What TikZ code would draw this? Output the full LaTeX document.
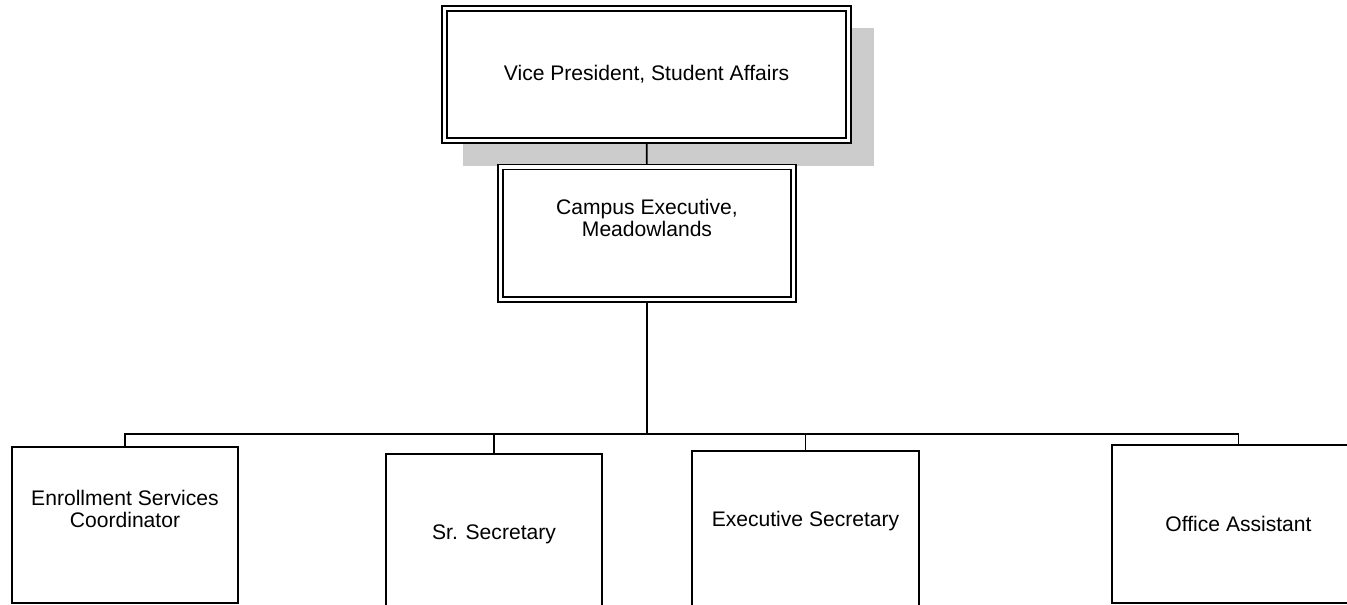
\documentclass[tikz,border=0pt]{standalone}
\usepackage{fontspec}
\setmainfont{Liberation Sans}
\usetikzlibrary{backgrounds}

\begin{document}
\begin{tikzpicture}[
  box/.style={draw,fill=white,line width=0.9pt,inner sep=0pt},
  dbox/.style={draw,fill=white,line width=0.6pt,double,double distance=2.25pt,
               inner sep=0pt,outer sep=1.75pt},
  conn/.style={line width=0.9pt},
  font=\fontsize{12}{12.5}\selectfont,
  every label/.style={align=center,font=\fontsize{12}{12.5}\selectfont},
]
  \useasboundingbox (0,0) rectangle (26.94,12.1);
  \clip (0,0) rectangle (26.94,12.1);

  % Top: vice president
  \node[dbox,minimum width=8.08cm,minimum height=2.64cm]
        (vp) at (12.93,10.61) {Vice President, Student Affairs};

  % grey shadow behind it
  \begin{scope}[on background layer]
    \fill[black!20] (9.26,8.78) rectangle (17.48,11.54);
  \end{scope}

  % Middle: campus executive
  \node[dbox,minimum width=5.86cm,minimum height=2.65cm,
        label={[yshift=0.3cm]center:Campus Executive,\\Meadowlands}]
        (ce) at (12.94,7.435) {};

  % Bottom row: staff
  \node[box,minimum width=4.52cm,minimum height=3.12cm,
        label={[yshift=0.33cm]center:Enrollment Services\\Coordinator}]
        (enr) at (2.50,1.60) {};
  \node[box,minimum width=4.32cm,minimum height=3.2cm] (sr) at (9.88,1.42) {Sr. Secretary};
  \node[box,minimum width=4.54cm,minimum height=3.12cm,
        label={[yshift=0.16cm]center:Executive Secretary}]
        (ex) at (16.11,1.52) {};
  \node[box,minimum width=5.06cm,minimum height=3.16cm] (oa) at (24.77,1.62) {Office Assistant};

  \coordinate (bus) at (12.94,3.42);

  \draw[conn] (vp) -- (ce);
  \draw[conn] (ce) -- (bus);

  % horizontal bus and drops to the boxes
  \draw[conn] (enr.north) -- (enr.north |- bus) -- (oa.north |- bus) -- (oa.north);
  \foreach \n in {sr,ex}
    \draw[conn] (\n.north) -- (\n.north |- bus);
\end{tikzpicture}
\end{document}
